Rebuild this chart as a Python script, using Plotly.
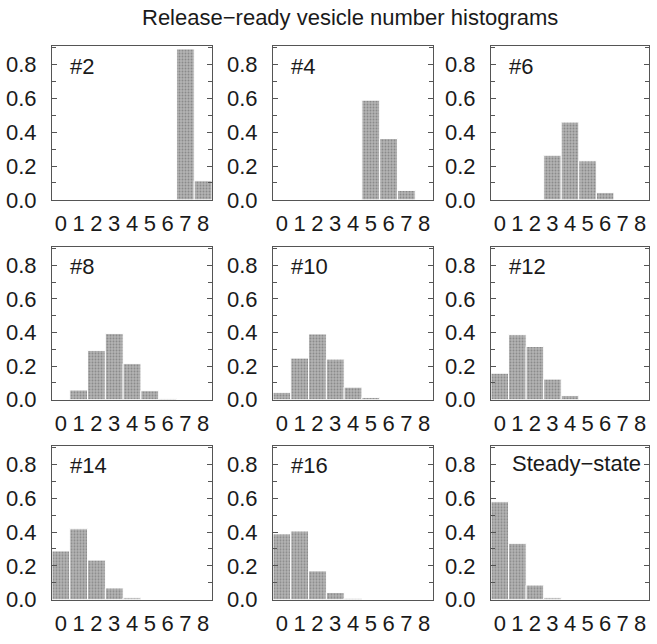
import plotly.graph_objects as go

categories = [0, 1, 2, 3, 4, 5, 6, 7, 8]
panel_labels = ["#2", "#4", "#6", "#8", "#10", "#12", "#14", "#16", "Steady\u2212state"]
values = {
    "#2": [0, 0, 0, 0, 0, 0, 0, 0.893, 0.113],
    "#4": [0, 0, 0, 0, 0, 0.59, 0.363, 0.056, 0],
    "#6": [0, 0, 0, 0.264, 0.46, 0.231, 0.043, 0, 0],
    "#8": [0, 0.058, 0.294, 0.394, 0.215, 0.054, 0.008, 0, 0],
    "#10": [0.044, 0.248, 0.392, 0.242, 0.075, 0.013, 0, 0, 0],
    "#12": [0.158, 0.387, 0.317, 0.123, 0.025, 0, 0, 0, 0],
    "#14": [0.288, 0.419, 0.234, 0.069, 0.011, 0, 0, 0, 0],
    "#16": [0.389, 0.406, 0.17, 0.042, 0.008, 0, 0, 0, 0],
    "Steady\u2212state": [0.579, 0.333, 0.086, 0.011, 0, 0, 0, 0, 0],
}
ytick_vals = [0.0, 0.2, 0.4, 0.6, 0.8]
ytick_text = ["0.0", "0.2", "0.4", "0.6", "0.8"]
title_text = "Release\u2212ready vesicle number histograms"

W, H = 657, 644
col_px = [(52, 212), (273, 433), (491, 649)]
row_px = [(47, 204), (252, 408), (455, 612)]
FONT = "Liberation Sans, Arial, Helvetica, sans-serif"
AXC = "#555555"
TXT = "#1a1a1a"

fig = go.Figure()
layout = dict(
    width=W, height=H, margin=dict(l=0, r=0, t=0, b=0),
    paper_bgcolor="white", plot_bgcolor="white", showlegend=False,
    bargap=0, font=dict(family=FONT, size=22, color=TXT),
)
annotations = []
for i, lab in enumerate(panel_labels):
    r, c = divmod(i, 3)
    n = i + 1
    xa = "xaxis" if n == 1 else f"xaxis{n}"
    ya = "yaxis" if n == 1 else f"yaxis{n}"
    xr = "x" if n == 1 else f"x{n}"
    yr = "y" if n == 1 else f"y{n}"
    x0, x1 = col_px[c]
    yt, yb = row_px[r]
    fig.add_trace(go.Bar(
        x=categories, y=values[lab], xaxis=xr, yaxis=yr,
        marker=dict(color="#9c9c9c", line=dict(color="white", width=1),
                    pattern=dict(shape=".", fgcolor="#5e5e5e", bgcolor="#b4b4b4",
                                 size=3, solidity=0.35)),
        hoverinfo="skip",
    ))
    layout[xa] = dict(
        domain=[x0 / W, x1 / W], anchor=yr, range=[-0.5, 8.5],
        tickvals=categories, ticktext=[str(v) for v in categories],
        ticks="", showline=True, linecolor=AXC, linewidth=1, mirror=True,
        showgrid=False, zeroline=False, ticklabelstandoff=4,
        tickfont=dict(size=22),
    )
    layout[ya] = dict(
        domain=[1 - yb / H, 1 - yt / H], anchor=xr, range=[0, 0.91],
        tickvals=ytick_vals, ticktext=ytick_text,
        ticks="inside", ticklen=5, tickcolor=AXC, tickwidth=1,
        minor=dict(dtick=0.1, ticks="inside", ticklen=4, tickcolor=AXC, tickwidth=1),
        showline=True, linecolor=AXC, linewidth=1, mirror="ticks",
        showgrid=False, zeroline=False, ticklabelstandoff=10,
        tickfont=dict(size=22),
    )
    if lab.startswith("#"):
        annotations.append(dict(
            text=lab, xref=f"{xr} domain", yref=f"{yr} domain",
            x=0.1, y=0.87, xanchor="left", yanchor="middle", showarrow=False,
            font=dict(size=22, family=FONT, color=TXT),
        ))
    else:
        annotations.append(dict(
            text=lab, xref=f"{xr} domain", yref=f"{yr} domain",
            x=0.96, y=0.885, xanchor="right", yanchor="middle", showarrow=False,
            font=dict(size=22, family=FONT, color=TXT),
        ))

annotations.append(dict(
    text=title_text, xref="paper", yref="paper", x=350 / W, y=1 - 18 / H,
    xanchor="center", yanchor="middle", showarrow=False,
    font=dict(size=22, family=FONT, color=TXT),
))
layout["annotations"] = annotations
fig.update_layout(**layout)
fig.write_html("out.html", config={"displayModeBar": False, "staticPlot": True},
               post_script="document.body.style.margin='0';document.body.style.padding='0';")
